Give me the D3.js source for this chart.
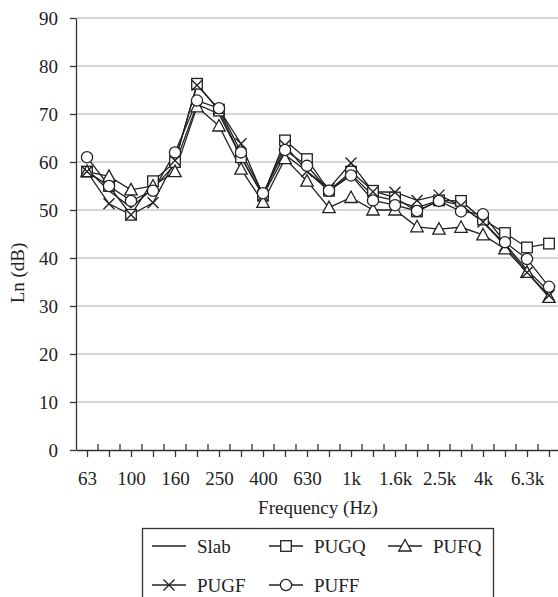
<!DOCTYPE html>
<html>
<head>
<meta charset="utf-8">
<script src="https://cdn.jsdelivr.net/npm/d3@7"></script>
<style>
  html, body { margin: 0; padding: 0; background: #fff; }
  svg { display: block; }
  text { font-family: "Liberation Serif", "DejaVu Serif", serif; fill: #222; }
</style>
</head>
<body>
<svg id="chart" width="558" height="597"></svg>
<script>
const categories = ["63","80","100","125","160","200","250","315","400","500","630","800","1k","1.25k","1.6k","2k","2.5k","3.15k","4k","5k","6.3k","8k"];
const yTicks = [0,10,20,30,40,50,60,70,80,90];
const seriesNames = ["Slab","PUGQ","PUFQ","PUGF","PUFF"];
const slab = [58.5,54,50.5,54.5,59.5,72,70,61,53,61.5,58,54,57.5,53,52,50.5,52,51,47.5,43,37.5,33];
const pugq = [58,55,49,56,60,76.3,70.7,61,53,64.5,60.6,54,58,54,52.6,49.7,52,51.9,48,45.2,42.2,43];
const pufq = [58,57,54.2,55,58,71.5,67.5,58.5,51.6,60.7,56,50.5,52.6,50,50,46.5,46,46.4,44.8,41.9,37,31.8];
const pugf = [58,51.3,49,51.5,60.3,76,71,63.8,53,63.5,58,54.5,59.8,53.8,53.7,52,53.1,50.9,47.5,42.6,37,32.2];
const puff = [61,55,51.9,54,62,72.8,71.2,62,53.5,62.5,59.2,54,57.2,52,51,49.8,51.9,49.7,49.1,43.3,39.8,34];

const series = [
  {name: seriesNames[0], values: slab, marker: "none"},
  {name: seriesNames[1], values: pugq, marker: "square"},
  {name: seriesNames[2], values: pufq, marker: "triangle"},
  {name: seriesNames[3], values: pugf, marker: "cross"},
  {name: seriesNames[4], values: puff, marker: "circle"}
];

const svg = d3.select("#chart");
const mLeft = 76, mRight = 560, mTop = 18, mBottom = 450;
const ink = "#222";

const x = d3.scalePoint().domain(categories).range([mLeft, mRight]).padding(0.5);
const y = d3.scaleLinear().domain([0, 90]).range([mBottom, mTop]);

// gridlines
svg.append("g").selectAll("line").data(yTicks.filter(d => d > 0)).join("line")
  .attr("x1", mLeft).attr("x2", mRight)
  .attr("y1", d => y(d)).attr("y2", d => y(d))
  .attr("stroke", "#c8c8c8").attr("stroke-width", 1.5);

// y axis
const yAxis = svg.append("g").attr("transform", `translate(${mLeft},0)`)
  .call(d3.axisLeft(y).tickValues(yTicks).tickSize(6).tickPadding(12).tickSizeOuter(0));
yAxis.select(".domain").attr("stroke", "#333").attr("stroke-width", 1.3);
yAxis.selectAll(".tick line").attr("stroke", "#333").attr("stroke-width", 1.3);
yAxis.selectAll("text").attr("font-size", 19).attr("font-family", "Liberation Serif").attr("fill", ink);

// x axis
const xAxis = svg.append("g").attr("transform", `translate(0,${mBottom})`)
  .call(d3.axisBottom(x).tickSize(7).tickSizeOuter(0).tickFormat((d, i) => i % 2 === 0 ? d : ""));
xAxis.select(".domain").attr("stroke", "#333").attr("stroke-width", 1.3);
xAxis.selectAll(".tick line").attr("stroke", "#333").attr("stroke-width", 1.3);
xAxis.selectAll("text").attr("font-size", 19).attr("font-family", "Liberation Serif")
  .attr("fill", ink).attr("y", 35).attr("dy", 0);

// boundary ticks (upward)
const step = x.step();
const bounds = d3.range(1, categories.length + 1).map(i => mLeft + i * step);
svg.append("g").selectAll("line").data(bounds).join("line")
  .attr("x1", d => d).attr("x2", d => d)
  .attr("y1", mBottom).attr("y2", mBottom - 6)
  .attr("stroke", "#333").attr("stroke-width", 1.3);

// axis titles
svg.append("text").attr("x", (mLeft + mRight) / 2).attr("y", 514)
  .attr("text-anchor", "middle").attr("font-size", 19).text("Frequency (Hz)");
svg.append("text").attr("transform", "translate(24,273) rotate(-90)")
  .attr("text-anchor", "middle").attr("font-size", 19).text("Ln (dB)");

// marker drawing
function drawMarker(g, type, cx, cy) {
  const s = 5.3;
  if (type === "square") {
    g.append("rect").attr("x", cx - s).attr("y", cy - s).attr("width", 2 * s).attr("height", 2 * s)
      .attr("fill", "#fff").attr("stroke", ink).attr("stroke-width", 1.3);
  } else if (type === "triangle") {
    g.append("path").attr("d", `M${cx},${cy - 6.5}L${cx + 6.2},${cy + 5}L${cx - 6.2},${cy + 5}Z`)
      .attr("fill", "#fff").attr("stroke", ink).attr("stroke-width", 1.3);
  } else if (type === "circle") {
    g.append("circle").attr("cx", cx).attr("cy", cy).attr("r", 5.6)
      .attr("fill", "#fff").attr("stroke", ink).attr("stroke-width", 1.3);
  } else if (type === "cross") {
    g.append("path").attr("d", `M${cx - 5.5},${cy - 5.5}L${cx + 5.5},${cy + 5.5}M${cx - 5.5},${cy + 5.5}L${cx + 5.5},${cy - 5.5}`)
      .attr("fill", "none").attr("stroke", ink).attr("stroke-width", 1.4);
  }
}

const line = d3.line().x((d, i) => x(categories[i])).y(d => y(d));
const plot = svg.append("g");
series.forEach(s => {
  plot.append("path").datum(s.values).attr("d", line)
    .attr("fill", "none").attr("stroke", ink).attr("stroke-width", 1.3);
});
series.forEach(s => {
  const g = plot.append("g");
  s.values.forEach((v, i) => drawMarker(g, s.marker, x(categories[i]), y(v)));
});

// legend
const lg = svg.append("g");
lg.append("rect").attr("x", 142.5).attr("y", 528.5).attr("width", 351).attr("height", 100)
  .attr("fill", "#fff").attr("stroke", "#333").attr("stroke-width", 1.3);
const legendPos = [
  {lx: 152, ty: 546},
  {lx: 269, ty: 546},
  {lx: 388, ty: 546},
  {lx: 152, ty: 585},
  {lx: 269, ty: 585}
];
series.forEach((s, i) => {
  const p = legendPos[i];
  lg.append("line").attr("x1", p.lx).attr("x2", p.lx + 34).attr("y1", p.ty).attr("y2", p.ty)
    .attr("stroke", ink).attr("stroke-width", 1.3);
  drawMarker(lg, s.marker, p.lx + 17, p.ty);
  lg.append("text").attr("x", p.lx + 45).attr("y", p.ty + 6.5).attr("font-size", 19).text(s.name);
});
</script>
</body>
</html>
